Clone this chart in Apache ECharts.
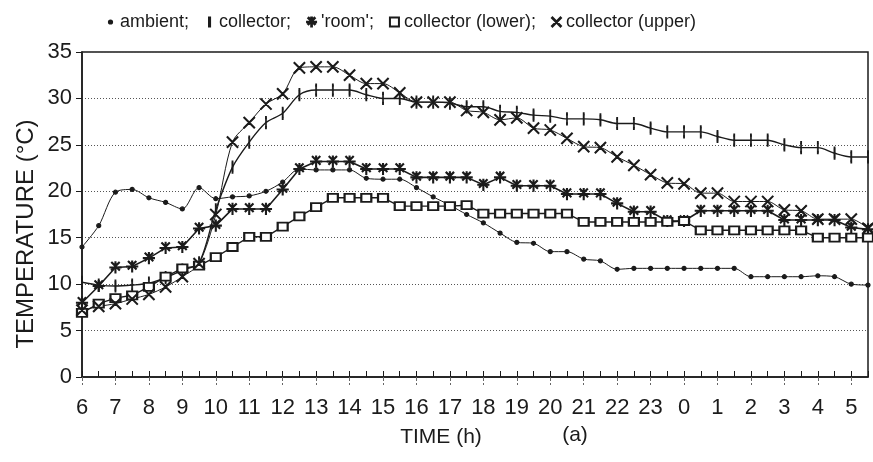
<!DOCTYPE html>
<html>
<head>
<meta charset="utf-8">
<script src="https://cdn.jsdelivr.net/npm/echarts@6/dist/echarts.min.js"></script>
<style>
  html, body { margin: 0; padding: 0; background: #fff; }
  #chart { width: 873px; height: 462px; }
</style>
</head>
<body>
<div id="chart"></div>
<script>
// half-hour readings, 6:00 to 5:30 next morning
const times = [
  '6:00', '6:30', '7:00', '7:30', '8:00', '8:30', '9:00', '9:30', '10:00', '10:30', '11:00', '11:30',
  '12:00', '12:30', '13:00', '13:30', '14:00', '14:30', '15:00', '15:30', '16:00', '16:30', '17:00', '17:30',
  '18:00', '18:30', '19:00', '19:30', '20:00', '20:30', '21:00', '21:30', '22:00', '22:30', '23:00', '23:30',
  '0:00', '0:30', '1:00', '1:30', '2:00', '2:30', '3:00', '3:30', '4:00', '4:30', '5:00', '5:30'
]
const yTicks = [0, 5, 10, 15, 20, 25, 30, 35]

const ambient = [
  14.0, 16.3, 19.9, 20.2, 19.3, 18.8, 18.1, 20.4, 19.2, 19.4, 19.5, 20.0,
  21.0, 22.4, 22.3, 22.3, 22.3, 21.4, 21.3, 21.3, 20.4, 19.4, 18.5, 17.5,
  16.6, 15.5, 14.5, 14.4, 13.5, 13.5, 12.7, 12.5, 11.6, 11.7, 11.7, 11.7,
  11.7, 11.7, 11.7, 11.7, 10.8, 10.8, 10.8, 10.8, 10.9, 10.8, 10.0, 9.9
]
const collector = [
  10.2, 9.9, 9.8, 9.9, 10.1, 10.7, 11.5, 12.3, 18.0, 22.6, 25.3, 27.4,
  28.4, 30.4, 30.9, 30.9, 30.9, 30.4, 30.0, 30.0, 29.6, 29.6, 29.5, 29.1,
  29.1, 28.6, 28.5, 28.2, 28.1, 27.8, 27.8, 27.7, 27.3, 27.3, 26.8, 26.4,
  26.4, 26.4, 25.9, 25.5, 25.5, 25.5, 25.0, 24.7, 24.7, 24.1, 23.7, 23.7
]
const room = [
  8.0, 9.8, 11.8, 11.9, 12.8, 13.9, 14.0, 16.0, 16.3, 18.1, 18.1, 18.1,
  20.2, 22.4, 23.2, 23.2, 23.2, 22.4, 22.4, 22.4, 21.5, 21.5, 21.5, 21.5,
  20.7, 21.5, 20.6, 20.6, 20.6, 19.7, 19.7, 19.7, 18.7, 17.8, 17.8, 16.8,
  16.8, 17.9, 17.9, 17.9, 17.9, 17.9, 16.9, 16.9, 16.9, 16.9, 16.1, 15.9
]
const lower = [
  6.9, 7.9, 8.5, 8.8, 9.7, 10.8, 11.7, 12.0, 12.9, 14.0, 15.1, 15.1,
  16.2, 17.3, 18.3, 19.3, 19.3, 19.3, 19.3, 18.4, 18.4, 18.4, 18.4, 18.5,
  17.6, 17.6, 17.6, 17.6, 17.6, 17.6, 16.7, 16.7, 16.7, 16.7, 16.7, 16.7,
  16.8, 15.8, 15.8, 15.8, 15.8, 15.8, 15.8, 15.8, 15.0, 15.0, 15.0, 15.0
]
const upper = [
  7.2, 7.6, 7.9, 8.4, 8.9, 9.7, 10.8, 12.2, 17.5, 25.3, 27.4, 29.4,
  30.5, 33.3, 33.4, 33.4, 32.5, 31.6, 31.6, 30.6, 29.6, 29.6, 29.6, 28.7,
  28.5, 27.7, 27.9, 26.8, 26.6, 25.7, 24.8, 24.7, 23.7, 22.8, 21.8, 20.9,
  20.8, 19.8, 19.8, 18.9, 18.9, 18.9, 18.0, 17.9, 17.0, 17.0, 17.0, 16.0
]

const ink = '#1b1b1b'
const font = '"Liberation Sans", Arial, sans-serif'
const starPath = 'path://M4.6,0h0.8v10h-0.8z M0,4.6h10v0.8h-10z M1.3,0.7l0.6-0.6l7,7l-0.6,0.6z M8.1,0.1l0.6,0.6l-7,7l-0.6-0.6z'
const crossPath = 'path://M0,0.55l0.55-0.55l9.45,9.45l-0.55,0.55z M9.45,0l0.55,0.55l-9.45,9.45l-0.55-0.55z'
const barPath = 'path://M0,0M10,10M4.4,0h1.2v10h-1.2z'
const dotPath = 'path://M0,0M10,10M3.2,5a1.8,1.8 0 1,0 3.6,0a1.8,1.8 0 1,0 -3.6,0z'

function makeSeries(name, data, symbol, size, smooth, width) {
  return {
    name: name,
    type: 'line',
    data: data,
    symbol: symbol,
    symbolSize: size,
    smooth: smooth,
    showAllSymbol: true,
    itemStyle: { color: ink, borderColor: ink, borderWidth: 1.2 },
    lineStyle: { color: ink, width: width },
    z: 3
  }
}

const chart = echarts.init(document.getElementById('chart'))
chart.setOption({
  animation: false,
  backgroundColor: '#fff',
  textStyle: { fontFamily: font, color: ink },
  legend: {
    top: 8,
    left: 100,
    itemWidth: 9,
    itemHeight: 9,
    itemGap: 15,
    textStyle: { fontFamily: font, fontSize: 18, color: ink },
    data: [
      { name: 'ambient;', icon: dotPath },
      { name: 'collector;', icon: barPath },
      { name: "'room';", icon: starPath },
      { name: 'collector (lower);', icon: 'emptyRect', itemStyle: { borderWidth: 1 } },
      { name: 'collector (upper)', icon: crossPath }
    ]
  },
  grid: { left: 82, right: 5, top: 52, bottom: 85, show: true, borderColor: ink, borderWidth: 1.5 },
  xAxis: [
    {
      type: 'category',
      data: times,
      boundaryGap: false,
      axisLine: { lineStyle: { color: ink, width: 1.5 } },
      axisTick: { inside: true, interval: 0, length: 6, lineStyle: { color: ink } },
      axisLabel: {
        interval: 1,
        margin: 20,
        fontSize: 22,
        color: ink,
        fontFamily: font,
        formatter: v => v.split(':')[0]
      },
      splitLine: { show: false }
    },
    {
      type: 'category',
      data: times,
      boundaryGap: false,
      position: 'bottom',
      axisLine: { show: false },
      axisTick: { interval: 1, length: 8, lineStyle: { color: '#666', type: 'dashed' } },
      axisLabel: { show: false }
    }
  ],
  yAxis: {
    type: 'value',
    min: yTicks[0],
    max: yTicks[yTicks.length - 1],
    interval: 5,
    axisLine: { show: true, lineStyle: { color: ink, width: 1.5 } },
    axisTick: { show: true, length: 6, lineStyle: { color: ink } },
    axisLabel: { fontSize: 22, color: ink, fontFamily: font, margin: 10 },
    splitLine: { show: true, lineStyle: { color: '#555', type: [1, 2], width: 1 } }
  },
  graphic: [
    {
      type: 'text',
      x: 14,
      y: 234,
      rotation: Math.PI / 2,
      style: { text: 'TEMPERATURE (°C)', font: '24px ' + font, fill: ink, align: 'center', verticalAlign: 'top' }
    },
    {
      type: 'text',
      x: 441,
      y: 437,
      style: { text: 'TIME (h)', font: '21px ' + font, fill: ink, align: 'center', verticalAlign: 'middle' }
    },
    {
      type: 'text',
      x: 575,
      y: 435,
      style: { text: '(a)', font: '21px ' + font, fill: ink, align: 'center', verticalAlign: 'middle' }
    }
  ],
  series: [
    makeSeries('ambient;', ambient, 'circle', 4, 0.3, 1),
    makeSeries('collector;', collector, 'rect', [1.4, 10], 0.3, 1.4),
    makeSeries("'room';", room, starPath, 11, false, 1.6),
    makeSeries('collector (lower);', lower, 'emptyRect', [10, 8], false, 1.4),
    makeSeries('collector (upper)', upper, crossPath, 11, 0.3, 1)
  ]
})
</script>
</body>
</html>
